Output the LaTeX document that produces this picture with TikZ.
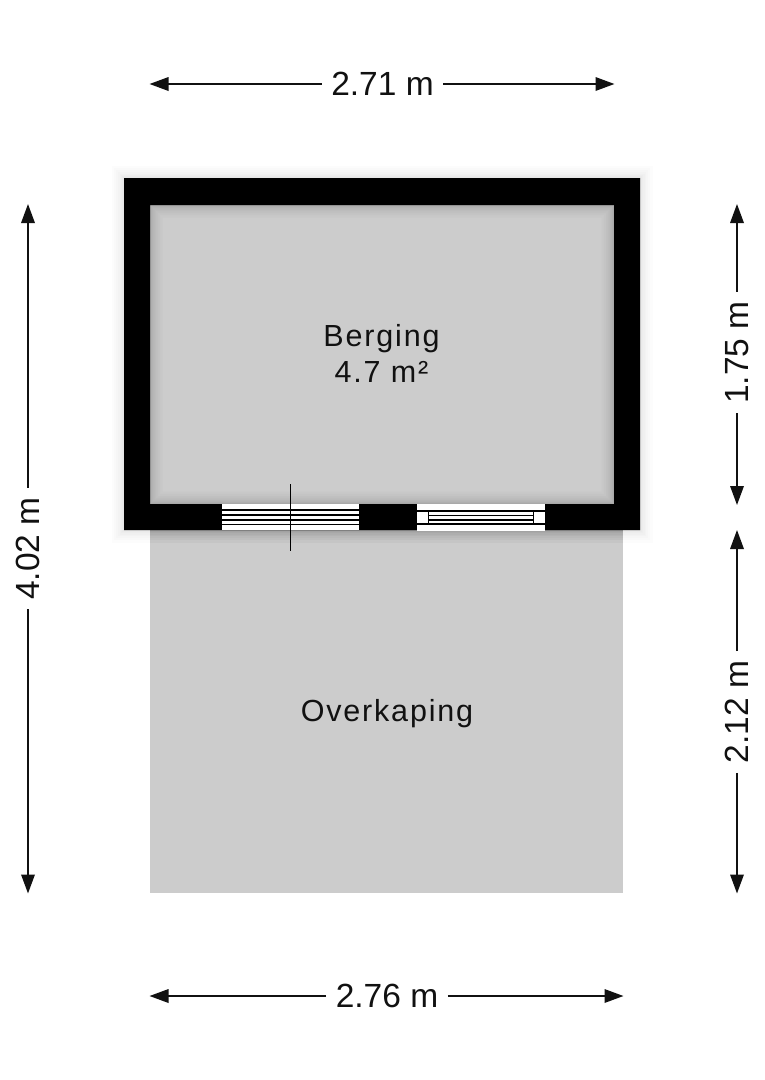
\documentclass[tikz,border=0pt]{standalone}
\usepackage{fontspec}
\setmainfont{Liberation Sans}
\usetikzlibrary{arrows.meta}
\definecolor{floorgrey}{HTML}{CCCCCC}
\definecolor{inkdark}{HTML}{111111}
\tikzset{
  dimline/.style={draw=inkdark,line width=1.8pt,-{Triangle[length=19pt,width=13.5pt]}},
  dimlabel/.style={inner xsep=9.5pt,inner ysep=4pt,text=inkdark,font=\fontsize{33.5}{34}\selectfont},
  roomlabel/.style={inner sep=0pt,align=center,text=inkdark,font=\fontsize{30.5}{35.5}\selectfont\addfontfeature{LetterSpace=6}},
  floorfill/.style={fill=floorgrey,draw=none},
  wallfill/.style={fill=black,draw=none},
  openingfill/.style={fill=white,draw=none},
  sashline/.style={draw=black,line width=1.6pt}
}
\begin{document}
\begin{tikzpicture}[x=1pt,y=-1pt]
\useasboundingbox (0,0) rectangle (764,1080);
\fill[white] (0,0) rectangle (764,1080);
% floors
\fill[floorfill] (150,530) rectangle (623,893);
% soft shadow around the walls
\foreach \s [evaluate=\s as \w using \s*\s/8] in {1,...,10}{
  \fill[black,opacity=0.012] (124-\w,178-\w) rectangle (640+\w,530+\w);
}
% shadow falling on the covered floor
\foreach \s [evaluate=\s as \w using \s*\s/8] in {1,...,10}{
  \fill[black,opacity=0.016] (150,530) rectangle (623,530+\w);
}
% room floor and inner shadow
\fill[floorfill] (150,205) rectangle (614,504);
\foreach \s [evaluate=\s as \w using \s*\s/8] in {1,...,10}{
  \fill[black,opacity=0.018,even odd rule] (150,205) rectangle (614,504) (150+\w,205+\w) rectangle (614-\w,504-\w);
}
% walls
\fill[wallfill,even odd rule] (124,178) rectangle (640,530) (150,205) rectangle (614,504);
% door
\fill[openingfill] (222,504) rectangle (359,530);
\foreach \yy in {510,515,519.7,524.3}{
  \draw[sashline] (222,\yy) -- (359,\yy);
}
\draw[sashline] (290.3,484) -- (290.3,551);
% window
\fill[openingfill] (416.7,504) rectangle (545,530.5);
\draw[sashline] (416.7,510.7) -- (545,510.7);
\draw[sashline] (416.7,524) -- (545,524);
\draw[sashline] (428.3,510.7) -- (428.3,524);
\draw[sashline] (533.3,510.7) -- (533.3,524);
\draw[sashline] (428.3,515.3) -- (533.3,515.3);
\draw[sashline] (428.3,520) -- (533.3,520);
% room labels
\node[roomlabel] (berging) at (381.5,353.5) {Berging\\4.7 m²};
\node[roomlabel] (overkaping) at (387,714) {Overkaping};
% dimension labels
\node[dimlabel] (top) at (382.5,84) {2.71 m};
\node[dimlabel] (bottom) at (387,996) {2.76 m};
\node[dimlabel,rotate=90] (left) at (28,548.5) {4.02 m};
\node[dimlabel,rotate=90] (rightup) at (737,352.5) {1.75 m};
\node[dimlabel,rotate=90] (rightdown) at (737,712) {2.12 m};
% free ends
\coordinate (tl) at (149.5,84);
\coordinate (tr) at (614.5,84);
\coordinate (bl) at (149.5,996);
\coordinate (br) at (623.5,996);
\coordinate (lt) at (28,204);
\coordinate (lb) at (28,893.5);
\coordinate (rt) at (737,204);
\coordinate (rm1) at (737,505);
\coordinate (rm2) at (737,530);
\coordinate (rb) at (737,893.5);
% dimension lines
\draw[dimline] (top) -- (tl);
\draw[dimline] (top) -- (tr);
\draw[dimline] (bottom) -- (bl);
\draw[dimline] (bottom) -- (br);
\draw[dimline] (left) -- (lt);
\draw[dimline] (left) -- (lb);
\draw[dimline] (rightup) -- (rt);
\draw[dimline] (rightup) -- (rm1);
\draw[dimline] (rightdown) -- (rm2);
\draw[dimline] (rightdown) -- (rb);
\end{tikzpicture}
\end{document}
